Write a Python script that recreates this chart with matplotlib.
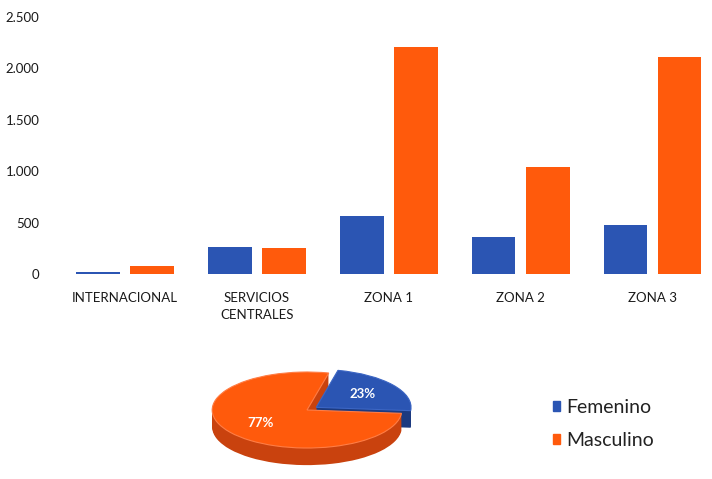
import matplotlib
matplotlib.use("Agg")
import matplotlib.pyplot as plt
from matplotlib.patches import Patch
from matplotlib.ticker import FuncFormatter

plt.rcParams["font.family"] = ["Lato", "DejaVu Sans"]

categorias = ["INTERNACIONAL", "SERVICIOS\nCENTRALES", "ZONA 1", "ZONA 2", "ZONA 3"]
femenino = [22, 258, 560, 358, 475]
masculino = [75, 250, 2210, 1045, 2115]
yticks = [0, 500, 1000, 1500, 2000, 2500]

pie_labels = ["Femenino", "Masculino"]
pie_values = [sum(femenino), sum(masculino)]

azul = "#2B55B3"
naranja = "#FF5A0C"
azul_osc = "#1C3A80"
naranja_osc = "#C9420E"

W, H = 712, 479
fig = plt.figure(figsize=(W / 100, H / 100), dpi=100)

# bar chart
ax = fig.add_axes([59 / W, (H - 274) / H, (712 - 59) / W, (274 - 17) / H])
x = list(range(len(categorias)))
ancho = 0.33
ax.bar([i - 0.205 for i in x], femenino, ancho, color=azul)
ax.bar([i + 0.205 for i in x], masculino, ancho, color=naranja)
ax.set_xlim(-0.5, 4.45)
ax.set_ylim(0, 2500)
ax.set_yticks(yticks)
ax.yaxis.set_major_formatter(FuncFormatter(lambda v, p: f"{int(v):,}".replace(",", ".")))
ax.set_xticks(x)
ax.set_xticklabels(categorias, fontsize=9.5, linespacing=1.5)
ax.tick_params(axis="y", length=0, pad=14, labelsize=9.5, labelcolor="#1a1a1a")
ax.tick_params(axis="x", length=0, pad=13, labelcolor="#1a1a1a")
for s in ax.spines.values():
    s.set_visible(False)

# pseudo 3D pie
pax = fig.add_axes([197 / W, (H - 475) / H, 220 / W, 115 / H])
explode = [0.12, 0]
depth = 0.45
capas = 16
for k in range(capas, 0, -1):
    pax.pie(pie_values, colors=[azul_osc, naranja_osc], startangle=-5,
            explode=explode, center=(0, -depth * k / capas),
            wedgeprops=dict(linewidth=0))
wedges, texts, autotexts = pax.pie(
    pie_values, colors=[azul, naranja], startangle=-5, explode=explode,
    autopct="%1.0f%%", pctdistance=0.6,
    wedgeprops=dict(linewidth=0.8, edgecolor="#FF7D45"),
    textprops=dict(color="white", fontsize=9.5, fontweight="bold"))
wedges[0].set_edgecolor("#3C66C4")
pax.set_aspect("auto")
pax.set_xlim(-1.16, 1.16)
pax.set_ylim(-1.71, 1.316)
pax.axis("off")

fig.legend(handles=[Patch(color=azul), Patch(color=naranja)], labels=pie_labels,
           loc="center left", bbox_to_anchor=(535 / W, (H - 424) / H),
           frameon=False, fontsize=14, handlelength=0.4, handleheight=0.4,
           handletextpad=0.3, labelspacing=0.8, labelcolor="#222222")

fig.savefig("out.png", dpi=100)
